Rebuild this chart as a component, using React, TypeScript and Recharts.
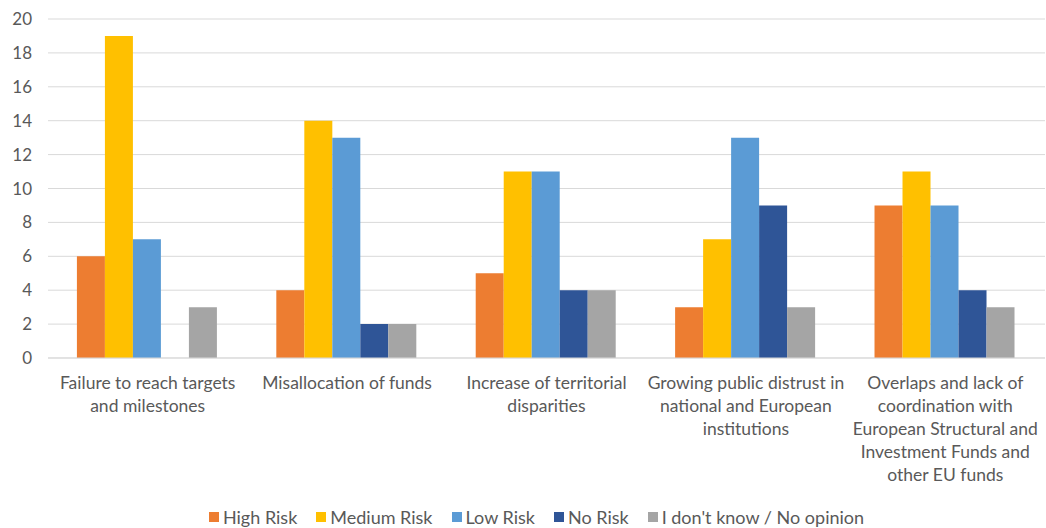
import React from "react";
import { BarChart, Bar, XAxis, YAxis, CartesianGrid, Legend } from "recharts";

const categories = [
  "Failure to reach targets\nand milestones",
  "Misallocation of funds",
  "Increase of territorial\ndisparities",
  "Growing public distrust in\nnational and European\ninstitutions",
  "Overlaps and lack of\ncoordination with\nEuropean Structural and\nInvestment Funds and\nother EU funds",
];
const highRisk = [6, 4, 5, 3, 9];
const mediumRisk = [19, 14, 11, 7, 11];
const lowRisk = [7, 13, 11, 13, 9];
const noRisk = [0, 2, 4, 9, 4];
const dontKnow = [3, 2, 4, 3, 3];
const yTicks = [0, 2, 4, 6, 8, 10, 12, 14, 16, 18, 20];

const seriesNames = ["High Risk", "Medium Risk", "Low Risk", "No Risk", "I don't know / No opinion"];
const seriesKeys = ["high", "medium", "low", "none", "dk"];
const seriesColors = ["#ED7D31", "#FFC000", "#5B9BD5", "#2F5597", "#A5A5A5"];

const data = categories.map((c, i) => ({
  name: c,
  high: highRisk[i],
  medium: mediumRisk[i],
  low: lowRisk[i],
  none: noRisk[i],
  dk: dontKnow[i],
}));

const FONT = "Lato, 'Open Sans', sans-serif";
const TEXT = "#595959";

const CategoryTick = (props: any) => {
  const { x, y, payload } = props;
  const lines = String(payload.value).split("\n");
  return (
    <text x={x} y={y} textAnchor="middle" fill={TEXT} fontSize={17.5} fontFamily={FONT}>
      {lines.map((l, i) => (
        <tspan key={i} x={x} dy={i === 0 ? 23 : 23}>
          {l}
        </tspan>
      ))}
    </text>
  );
};

const LegendContent = () => (
  <div
    style={{
      display: "flex",
      justifyContent: "center",
      fontFamily: FONT,
      fontSize: 18,
      color: TEXT,
      paddingLeft: 28,
      paddingTop: 8,
    }}
  >
    {seriesNames.map((n, i) => (
      <div key={n} style={{ display: "flex", alignItems: "center", marginRight: i < 4 ? 19 : 0 }}>
        <span style={{ width: 10, height: 10, background: seriesColors[i], display: "inline-block", marginRight: 4 }} />
        <span>{n}</span>
      </div>
    ))}
  </div>
);

export default function App() {
  return (
    <div style={{ position: "absolute", left: 0, top: 0, background: "#fff" }}>
      <BarChart
        width={1046}
        height={528}
        data={data}
        margin={{ top: 19, right: 1, left: 0, bottom: 0 }}
        barGap={0}
        barCategoryGap="14.5%"
      >
        <CartesianGrid vertical={false} stroke="#D9D9D9" />
        <XAxis
          dataKey="name"
          tick={<CategoryTick />}
          tickLine={false}
          axisLine={{ stroke: "#D9D9D9" }}
          height={140}
          interval={0}
        />
        <YAxis
          domain={[0, 20]}
          ticks={yTicks}
          width={48}
          axisLine={false}
          tickLine={false}
          tickMargin={10}
          tick={{ fill: TEXT, fontSize: 17, fontFamily: FONT }}
        />
        <Legend verticalAlign="bottom" height={30} content={<LegendContent />} />
        {seriesKeys.map((k, i) => (
          <Bar key={k} dataKey={k} name={seriesNames[i]} fill={seriesColors[i]} isAnimationActive={false} />
        ))}
      </BarChart>
    </div>
  );
}
